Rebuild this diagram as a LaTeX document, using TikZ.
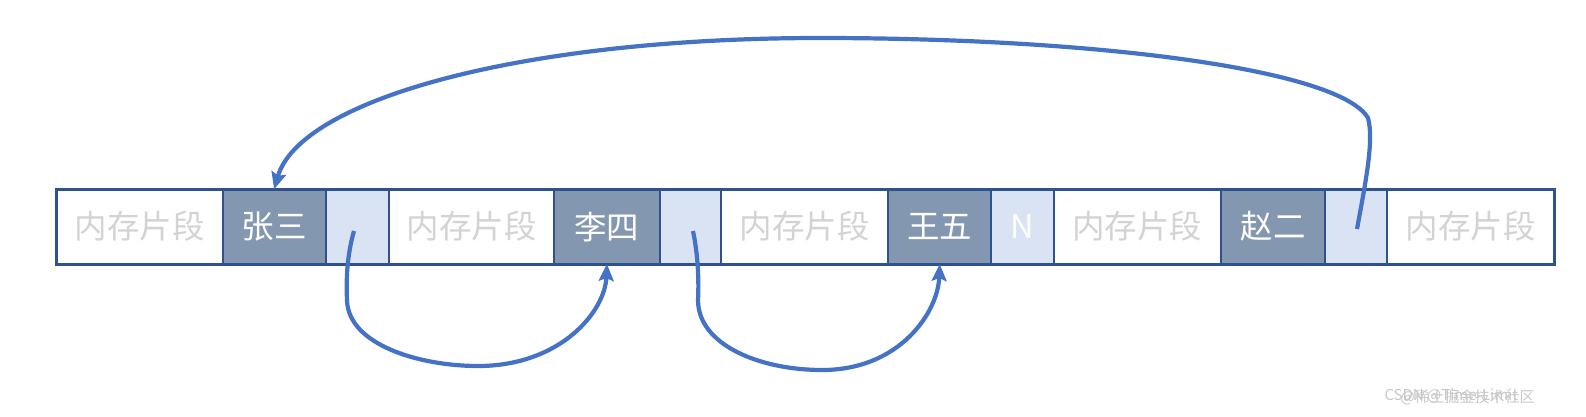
\documentclass[tikz,border=0pt]{standalone}
\usepackage{fontspec}
\setmainfont{Noto Sans CJK SC}
\usetikzlibrary{arrows.meta}
\definecolor{edgeblue}{HTML}{2F528F}
\definecolor{namefill}{HTML}{8497B0}
\definecolor{ptrfill}{HTML}{DAE3F3}
\definecolor{fragtext}{HTML}{D3D3D3}
\definecolor{arrowblue}{HTML}{4472C4}
\definecolor{wmgray}{HTML}{C8C8C8}
\tikzset{
  cell/.style={draw=edgeblue, line width=2pt, anchor=north west, minimum height=74.8pt, inner sep=0pt, outer sep=0pt,
    font=\fontsize{32.5}{37}\selectfont},
  frag/.style={cell, fill=white, text=fragtext},
  namecell/.style={cell, fill=namefill, text=white},
  ptrcell/.style={cell, fill=ptrfill, text=white},
  link/.style={draw=arrowblue, line width=4.2pt, -{Stealth[length=17pt,width=15pt,inset=3pt]}},
  wm/.style={text=wmgray, font=\fontsize{15}{17}\selectfont, anchor=west}
}
\begin{document}
\begin{tikzpicture}[x=1pt,y=-1pt]
\useasboundingbox (0,0) rectangle (1586,416);
% cells
\node[frag, minimum width=165.9pt] (f1) at (56.6,189.2) {内存片段};
\node[namecell, minimum width=103.2pt] (zs) at (222.5,189.2) {张三};
\node[ptrcell, minimum width=63.7pt] (p1) at (325.7,189.2) {};
\node[frag, minimum width=164.9pt] (f2) at (389.4,189.2) {内存片段};
\node[namecell, minimum width=105.2pt] (ls) at (554.3,189.2) {李四};
\node[ptrcell, minimum width=61.7pt] (p2) at (659.5,189.2) {};
\node[frag, minimum width=166.9pt] (f3) at (721.2,189.2) {内存片段};
\node[namecell, minimum width=103.2pt] (ww) at (888.1,189.2) {王五};
\node[ptrcell, minimum width=62.7pt] (p3) at (991.3,189.2) {N};
\node[frag, minimum width=166.9pt] (f4) at (1054,189.2) {内存片段};
\node[namecell, minimum width=104.2pt] (ze) at (1220.9,189.2) {赵二};
\node[ptrcell, minimum width=61.7pt] (p4) at (1325.1,189.2) {};
\node[frag, minimum width=167.9pt] (f5) at (1386.8,189.2) {内存片段};
\draw[edgeblue, line width=3pt] (f1.north west) rectangle (f5.south east);
% connector start points inside pointer cells
\coordinate (s1) at (354,231);
\coordinate (s2) at (693,231);
\coordinate (s4) at (1357,229);
% arrows
\draw[link] (s1) .. controls (347,255) and (346,280) .. (347,300)
  .. controls (348,345) and (420,366) .. (478,366)
  .. controls (560,366) and (605,312) .. (ls.south);
\draw[link] (s2) .. controls (698,255) and (699,280) .. (698,300)
  .. controls (698,345) and (760,370) .. (822,370)
  .. controls (900,370) and (938,312) .. (ww.south);
\draw[link] (s4) .. controls (1366,180) and (1374,140) .. (1368,118)
  .. controls (1340,70) and (1100,38) .. (820,38)
  .. controls (520,38) and (300,100) .. (zs.north);
% watermark
\node[wm] (wm1) at (1381,396) {CSDN @Time-Limit};
\node[wm] (wm2) at (1397,397) {@稀土掘金技术社区};
\end{tikzpicture}
\end{document}
